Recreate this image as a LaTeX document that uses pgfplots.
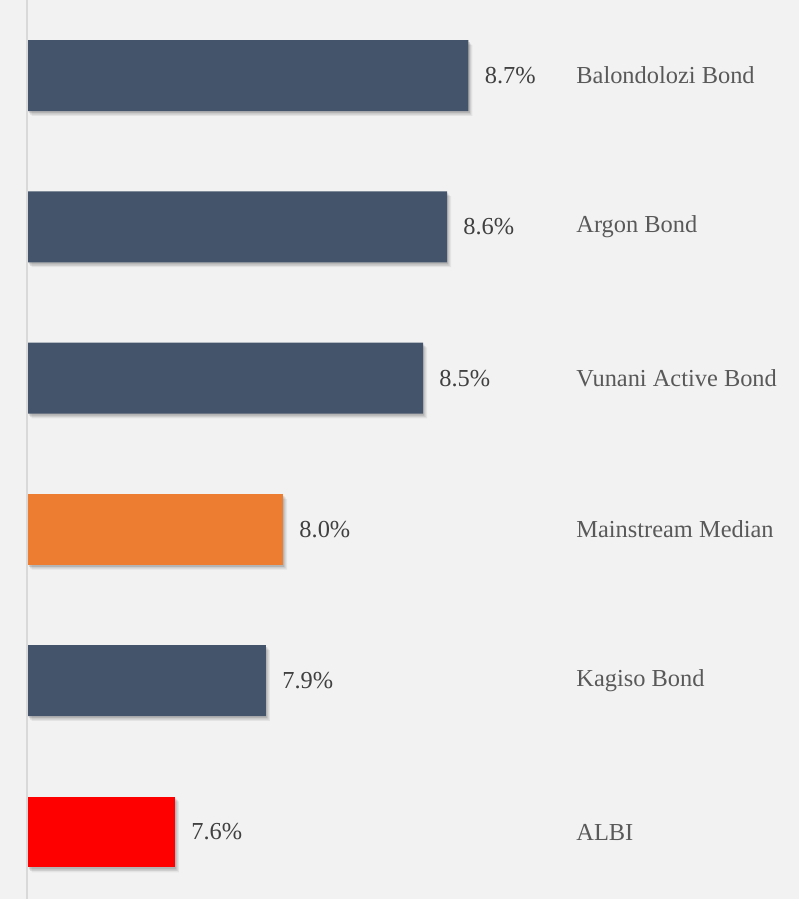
\documentclass[border=0pt]{standalone}
\usepackage{pgfplots}
\usepackage{pgfplotstable}
\pgfplotsset{compat=1.18}
\usepackage{fontspec}
\setmainfont{Liberation Serif}
\definecolor{bg}{HTML}{F2F2F2}
\definecolor{barblue}{HTML}{44546A}
\definecolor{barorange}{HTML}{ED7D31}
\definecolor{barred}{HTML}{FF0000}
\definecolor{valtext}{HTML}{404040}
\definecolor{cattext}{HTML}{595959}
\definecolor{axline}{HTML}{D9D9D9}
\pgfplotstableread{
v y
8.686 5
8.606 4
8.516 3
7.928 1
}\bluedata
\pgfplotstableread{
v y
7.992 2
}\orangedata
\pgfplotstableread{
v y
7.587 0
}\reddata
\pgfplotstableread{
v y
8.686 5
8.606 4
8.516 3
7.992 2
7.928 1
7.587 0
}\alldata
\begin{document}
\begin{tikzpicture}
\fill[bg] (0pt,0pt) rectangle (399.5pt,449.5pt);
\begin{axis}[
  at={(13.75pt,0pt)}, anchor=south west,
  scale only axis,
  width=266.25pt, height=449.5pt,
  xbar, bar width=0.469, bar shift=0pt,
  xmin=0, xmax=1.994,
  ymin=-0.443, ymax=5.5,
  axis line style={draw=none},
  hide x axis,
  ytick={0,1,2,3,4,5},
  yticklabels={ALBI,Kagiso Bond,Mainstream Median,Vunani Active Bond,Argon Bond,Balondolozi Bond},
  yticklabel pos=right,
  major tick length=0pt,
  ytick style={draw=none},
  yticklabel style={anchor=west, inner sep=0pt, xshift=8pt, text=cattext, font=\fontsize{12.2}{14}\selectfont},
  point meta=explicit,
  nodes near coords style={anchor=west, inner sep=0pt, xshift=8pt, text=valtext, font=\fontsize{12.2}{14}\selectfont},
  clip=false,
]
% soft shadows
\addplot[fill=black, fill opacity=0.06, draw=none, xshift=2pt, yshift=-2.4pt] table[x expr=\thisrow{v}-7.035, y=y] {\alldata};
\addplot[fill=black, fill opacity=0.09, draw=none, xshift=1.3pt, yshift=-1.7pt] table[x expr=\thisrow{v}-7.035, y=y] {\alldata};
\addplot[fill=black, fill opacity=0.12, draw=none, xshift=0.7pt, yshift=-1pt] table[x expr=\thisrow{v}-7.035, y=y] {\alldata};
\pgfplotsset{nodes near coords={\pgfmathprintnumber[fixed,fixed zerofill,precision=1,assume math mode=true]{\pgfplotspointmeta}\%}}
\addplot[fill=barblue, draw=none] table[x expr=\thisrow{v}-7.035, y=y, meta=v] {\bluedata};
\addplot[fill=barorange, draw=none] table[x expr=\thisrow{v}-7.035, y=y, meta=v] {\orangedata};
\addplot[fill=barred, draw=none] table[x expr=\thisrow{v}-7.035, y=y, meta=v] {\reddata};
\draw[axline, line width=1pt] ([xshift=-0.5pt]rel axis cs:0,0) -- ([xshift=-0.5pt]rel axis cs:0,1);
\end{axis}
\pgfresetboundingbox
\useasboundingbox (0pt,0pt) rectangle (399.5pt,449.5pt);
\end{tikzpicture}
\end{document}
